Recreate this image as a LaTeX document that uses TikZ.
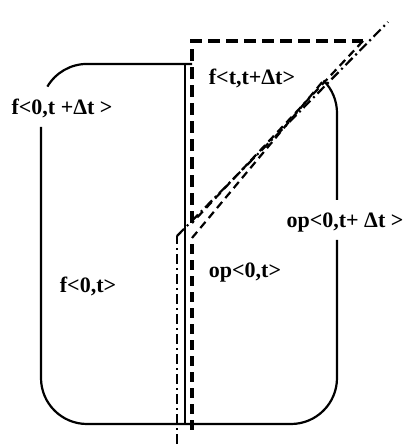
\documentclass[tikz,border=0pt]{standalone}
\usepackage{fontspec}
\setmainfont{Liberation Serif}

\begin{document}
\begin{tikzpicture}[
    x=1pt, y=1pt,
    font=\fontsize{22}{24}\selectfont\bfseries,
    outline/.style={line width=2.2pt},
    slotbox/.style={line width=3.2pt, dash pattern=on 12pt off 6pt},
    slotedge/.style={line width=2.2pt, dash pattern=on 8pt off 5pt},
    opedge/.style={line width=3.2pt, dash pattern=on 10pt off 6pt},
    cutline/.style={line width=2.8pt, dash pattern=on 10pt off 4pt on 2pt off 4pt},
    tag/.style={inner sep=0pt, anchor=base}
]
    \useasboundingbox (0,0) rectangle (409,448);

    % solid outline of the whole region
    \draw[outline] (47.4,361.4) arc[start angle=149.5, end angle=90, radius=46] -- (192,384);
    \draw[outline] (41,321) -- (41,70) arc[start angle=180, end angle=270, radius=46]
        -- (291,24) arc[start angle=270, end angle=360, radius=46] -- (337,208);
    \draw[outline] (337,248) -- (337,335) arc[start angle=0, end angle=45, radius=46];
    \draw[outline] (185,384) -- (185,24);

    % window <t,t+dt>
    \draw[slotbox] (192,225) -- (192,407) -- (363,407);
    \draw[slotedge] (363,407) -- (192,225);

    % op region border
    \draw[opedge] (192,18) -- (192,210);
    \draw[slotedge] (192,210) -- (323.5,367.5);

    % cut line
    \draw[cutline] (177,4) -- (177,212);
    \draw[cutline, line width=2.2pt] (177,212) -- (388,426);

    \node[tag] (fall) at (62,333) {f<0,t +Δt >};
    \node[tag] (fslot) at (252,363) {f<t,t+Δt>};
    \node[tag] (fpast) at (88,155) {f<0,t>};
    \node[tag] (oppast) at (245,170) {op<0,t>};
    \node[tag] (opall) at (345,220) {op<0,t+ Δt >};
\end{tikzpicture}
\end{document}
